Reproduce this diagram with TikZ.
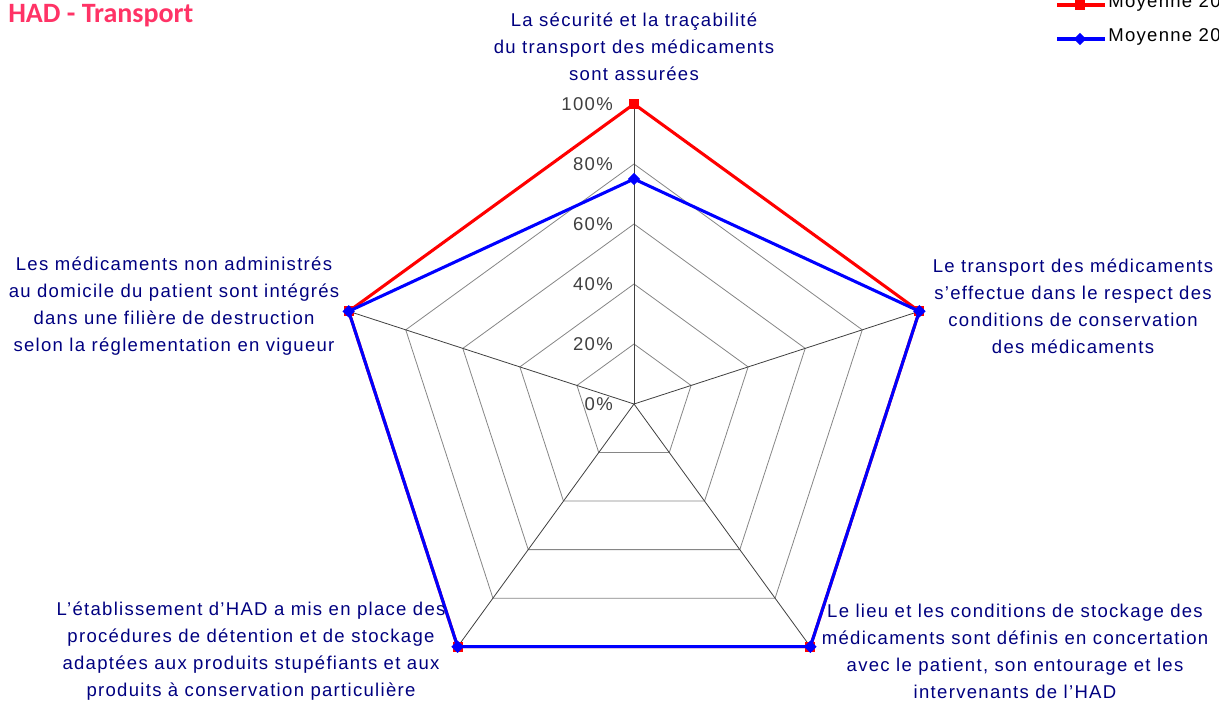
\documentclass[tikz,border=0pt]{standalone}
\usepackage{fontspec}
\setmainfont{Liberation Sans}
\newfontfamily\titlefont{Carlito}
\usetikzlibrary{shapes.geometric,calc}
\definecolor{navy}{HTML}{000080}
\definecolor{titlepink}{HTML}{FF3366}
\definecolor{axisgray}{HTML}{404040}
\definecolor{gridgray}{HTML}{868686}
\begin{document}
\begin{tikzpicture}[x=0.75pt,y=-0.75pt,
  lbl/.style={text=navy,align=center,inner sep=0pt,
    font=\fontsize{13.9pt}{20.25pt}\selectfont\addfontfeature{LetterSpace=7}},
  pct/.style={text=axisgray,anchor=east,inner sep=0pt,
    font=\fontsize{13.9pt}{16pt}\selectfont\addfontfeature{LetterSpace=7}},
  leg/.style={text=black,anchor=west,inner sep=0pt,
    font=\fontsize{13.9pt}{16pt}\selectfont\addfontfeature{LetterSpace=7}},
  gridline/.style={draw=gridgray,line width=0.6pt},
  spoke/.style={draw=black!75,line width=0.6pt},
  redline/.style={draw=red,line width=2.3pt,line join=miter},
  blueline/.style={draw=blue,line width=2.3pt,line join=round},
  rmark/.style={rectangle,fill=red,minimum size=7.5pt,inner sep=0pt},
  bmark/.style={diamond,fill=blue,minimum size=9.5pt,aspect=1,inner sep=0pt}]
\clip (0,0) rectangle (1219,702);
\fill[white] (0,0) rectangle (1219,702);
\coordinate (c) at (634,404);
% axis vertices (100%)
\path (c) ++(-90:300) coordinate (v1);
\path (c) ++(-18:300) coordinate (v2);
\path (c) ++(54:300) coordinate (v3);
\path (c) ++(126:300) coordinate (v4);
\path (c) ++(198:300) coordinate (v5);
% grid pentagons
\foreach \r in {60,120,180,240,300}{
  \draw[gridline] ($(c)+(-90:\r)$) -- ($(c)+(-18:\r)$) -- ($(c)+(54:\r)$) -- ($(c)+(126:\r)$) -- ($(c)+(198:\r)$) -- cycle;
}
% spokes
\foreach \i in {1,...,5}{ \draw[spoke] (c) -- (v\i); }
% percent labels
\node[pct] (p0) at (613,404) {0\%};
\node[pct] (p20) at (613,344) {20\%};
\node[pct] (p40) at (613,284) {40\%};
\node[pct] (p60) at (613,224) {60\%};
\node[pct] (p80) at (613,164) {80\%};
\node[pct] (p100) at (613,104) {100\%};
% red series
\draw[redline] (v1) -- (v2) -- (v3) -- (v4) -- (v5) -- cycle;
\foreach \i in {1,...,5}{ \node[rmark] (r\i) at (v\i) {}; }
% blue series
\path (c) ++(-90:225) coordinate (b1);
\draw[blueline] (b1) -- (v2) -- (v3) -- (v4) -- (v5) -- cycle;
\node[bmark] (bm1) at (b1) {};
\foreach \i in {2,...,5}{ \node[bmark] (bm\i) at (v\i) {}; }
% category labels
\node[lbl] (l1) at (634,47) {La sécurité et la traçabilité\\du transport des médicaments\\sont assurées};
\node[lbl] (l2) at (1073,306) {Le transport des médicaments\\s’effectue dans le respect des\\conditions de conservation\\des médicaments};
\node[lbl] (l3) at (1015,651) {Le lieu et les conditions de stockage des\\médicaments sont définis en concertation\\avec le patient, son entourage et les\\intervenants de l’HAD};
\node[lbl] (l4) at (251,651) {L’établissement d’HAD a mis en place des\\procédures de détention et de stockage\\adaptées aux produits stupéfiants et aux\\produits à conservation particulière};
\node[lbl] (l5) at (174,306) {Les médicaments non administrés\\au domicile du patient sont intégrés\\dans une filière de destruction\\selon la réglementation en vigueur};
% title
\node[anchor=west,inner sep=0pt,text=titlepink,font=\titlefont\bfseries\fontsize{21pt}{24pt}\selectfont] (title) at (8,16) {HAD - Transport};
% legend
\coordinate (lr1) at (1057,5); \coordinate (lr2) at (1105,5);
\draw[redline] (lr1) -- (lr2);
\node[rmark] (lrm) at (1080,5) {};
\node[leg] (lrt) at (1108,3) {Moyenne 20};
\coordinate (lb1) at (1057,39); \coordinate (lb2) at (1105,39);
\draw[blueline] (lb1) -- (lb2);
\node[bmark] (lbm) at (1080,39) {};
\node[leg] (lbt) at (1108,37) {Moyenne 20};
\end{tikzpicture}
\end{document}
